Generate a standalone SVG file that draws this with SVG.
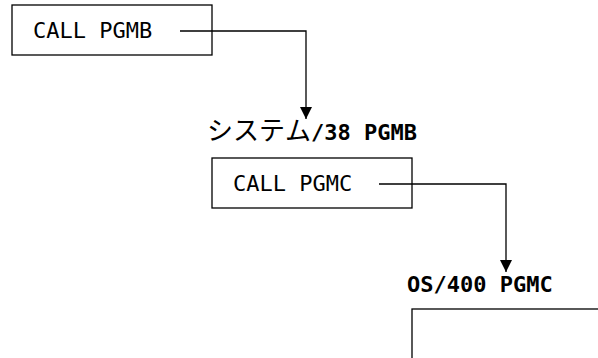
<svg xmlns="http://www.w3.org/2000/svg" width="598" height="358" viewBox="0 0 598 358">
<style>
.box{fill:#fff;stroke:#000;stroke-width:1.3}
.t{font-family:"DejaVu Sans Mono","Liberation Mono",monospace;font-size:22px;fill:#000}
.b{font-weight:bold}
.jp{font-family:"Noto Sans CJK JP","Noto Sans CJK SC",sans-serif;font-size:26px;fill:#000}
.c{fill:none;stroke:#000;stroke-width:1.3}
</style>
<defs>
<marker id="ah" markerUnits="userSpaceOnUse" markerWidth="12" markerHeight="12" refX="12" refY="6" orient="auto">
<path d="M0,0 L12,6 L0,12 Z" fill="#000"/>
</marker>
</defs>
<g id="node-pgma">
<rect class="box" x="12" y="5" width="200" height="50"/>
<text class="t" x="33" y="38">CALL PGMB</text>
</g>
<g id="node-pgmb">
<text x="207" y="140"><tspan class="jp" x="207">シ</tspan><tspan class="jp" x="233">ス</tspan><tspan class="jp" x="259">テ</tspan><tspan class="jp" x="285">ム</tspan><tspan class="t b" x="311">/38 PGMB</tspan></text>
<rect class="box" x="212" y="158" width="200" height="50"/>
<text class="t" x="233" y="191">CALL PGMC</text>
</g>
<g id="node-pgmc">
<text class="t b" x="407" y="292">OS/400 PGMC</text>
<rect class="box" x="412" y="309" width="200" height="60"/>
</g>
<g id="connectors">
<path class="c" d="M180,31 H306 V119" marker-end="url(#ah)"/>
<path class="c" d="M379,184 H506 V272" marker-end="url(#ah)"/>
</g>
</svg>
